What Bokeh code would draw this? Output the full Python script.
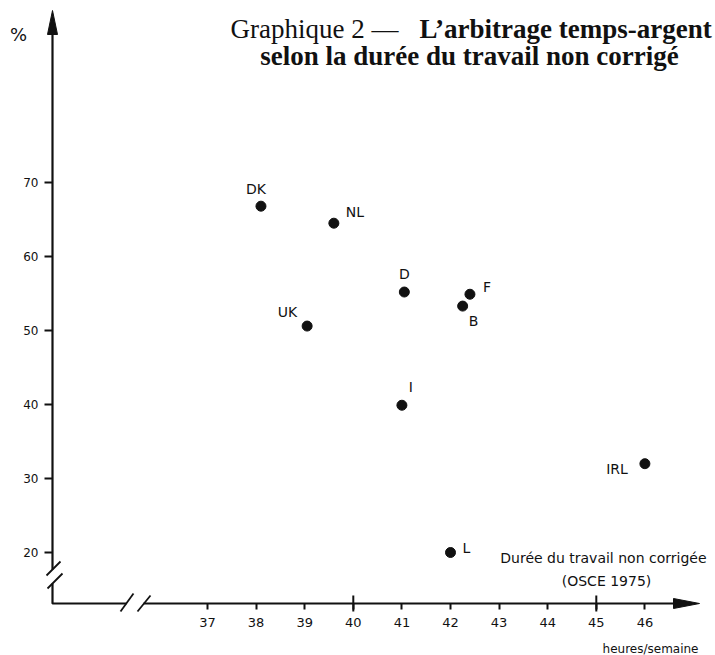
from bokeh.plotting import figure
from bokeh.models import Range1d, LinearAxis, FixedTicker, Label, ColumnDataSource
from bokeh.core.properties import value
from bokeh.embed import file_html
from bokeh.resources import INLINE

# ---- data ----
countries = ["DK", "NL", "D", "F", "B", "UK", "I", "L", "IRL"]
hours = [38.1, 39.6, 41.05, 42.4, 42.25, 39.05, 41.0, 42.0, 46.0]
share = [66.8, 64.5, 55.2, 54.9, 53.3, 50.6, 39.9, 20.0, 32.0]
x_ticks = [37, 38, 39, 40, 41, 42, 43, 44, 45, 46]
x_long_ticks = [40, 45]
y_ticks = [20, 30, 40, 50, 60, 70]

# ---- layout (page pixel geometry) ----
W, H = 715, 655
PX_X, PX_Y = 48.6, 7.4
x0 = 37 - 207 / PX_X
x1 = x0 + W / PX_X
y1 = 20 + 552 / PX_Y
y0 = y1 - H / PX_Y


def X(px):
    return x0 + px / PX_X


def Y(py):
    return y1 - py / PX_Y


p = figure(width=W, height=H, x_range=Range1d(x0, x1), y_range=Range1d(y0, y1),
           output_backend="svg", toolbar_location=None,
           x_axis_type=None, y_axis_type=None, min_border=0)
p.outline_line_color = None
p.background_fill_color = "white"

INK = "#111111"
FONT = "DejaVu Sans"

# axes (ticks + labels only)
yax = LinearAxis(ticker=FixedTicker(ticks=y_ticks), fixed_location=X(52),
                 axis_line_color=None, major_tick_out=8, major_tick_in=0,
                 minor_tick_out=0, minor_tick_in=0, major_tick_line_width=2,
                 major_tick_line_color=INK, major_label_standoff=6,
                 major_label_text_font=FONT, major_label_text_font_size="12px",
                 major_label_text_color=INK)
p.add_layout(yax, "left")

xax = LinearAxis(ticker=FixedTicker(ticks=x_ticks), fixed_location=Y(603),
                 axis_line_color=None, major_tick_out=6, major_tick_in=0,
                 minor_tick_out=0, minor_tick_in=0, major_tick_line_width=2,
                 major_tick_line_color=INK, major_label_standoff=8,
                 major_label_text_font=FONT, major_label_text_font_size="13px",
                 major_label_text_color=INK)
p.add_layout(xax, "below")

# axis lines with breaks
LW = 2.2
p.line([X(52), X(52)], [Y(30), Y(569)], line_color=INK, line_width=LW)
p.line([X(52), X(52), X(126)], [Y(583), Y(603), Y(603)], line_color=INK, line_width=LW)
p.line([X(143), X(678)], [Y(603), Y(603)], line_color=INK, line_width=LW)
# break slashes
p.segment(x0=[X(46), X(47), X(120), X(137)], y0=[Y(575), Y(588), Y(611), Y(611)],
          x1=[X(60), X(62), X(133), X(150)], y1=[Y(561), Y(573), Y(593), Y(595)],
          line_color=INK, line_width=1.8)
# longer ticks at 40 and 45
p.segment(x0=x_long_ticks, x1=x_long_ticks, y0=[Y(595)] * len(x_long_ticks),
          y1=[Y(611)] * len(x_long_ticks), line_color=INK, line_width=2)
# arrow heads
p.patch([X(52), X(47), X(57)], [Y(10), Y(34), Y(34)], color=INK)
p.patch([X(699), X(673), X(673)], [Y(603), Y(598), Y(608)], color=INK)

# points and labels
dx = [-5, 12, 0, 13, 11, -10, 9, 12, -17]
dy = [-17, -11, -18, -7, 15, -14, -18, -5, 5]
align = ["center", "left", "center", "left", "center", "right", "center", "left", "right"]
src = ColumnDataSource(dict(x=hours, y=share, name=countries, dx=dx, dy=dy, align=align))
p.scatter(x="x", y="y", size=10, color=INK, source=src)
p.text(x="x", y="y", text="name", x_offset="dx", y_offset="dy", text_align="align",
       text_baseline="middle", text_font=value(FONT), text_font_size="14px",
       text_color=INK, source=src)

# titles and axis captions
SERIF = "Liberation Serif"
p.add_layout(Label(x=X(230), y=Y(28), text="Graphique 2 \u2014", text_font=SERIF,
                   text_font_size="27px", text_baseline="alphabetic", text_align="left",
                   text_color=INK))
p.add_layout(Label(x=X(419), y=Y(28), text="L\u2019arbitrage temps-argent", text_font=SERIF,
                   text_font_size="27px", text_font_style="bold", text_baseline="alphabetic",
                   text_align="left", text_color=INK))
p.add_layout(Label(x=X(469), y=Y(55), text="selon la dur\u00e9e du travail non corrig\u00e9",
                   text_font=SERIF, text_font_size="27px", text_font_style="bold",
                   text_baseline="alphabetic", text_align="center", text_color=INK))
p.add_layout(Label(x=X(18), y=Y(34), text="%", text_font=FONT, text_font_size="18px",
                   text_baseline="middle", text_align="center", text_color=INK))
p.add_layout(Label(x=X(706), y=Y(557), text="Dur\u00e9e du travail non corrig\u00e9e",
                   text_font=FONT, text_font_size="14px", text_baseline="middle",
                   text_align="right", text_color=INK))
p.add_layout(Label(x=X(606), y=Y(580), text="(OSCE 1975)", text_font=FONT,
                   text_font_size="14px", text_baseline="middle", text_align="center",
                   text_color=INK))
p.add_layout(Label(x=X(698), y=Y(648), text="heures/semaine", text_font=FONT,
                   text_font_size="12px", text_baseline="middle", text_align="right",
                   text_color=INK))

open("out.html", "w").write(file_html(p, INLINE))
